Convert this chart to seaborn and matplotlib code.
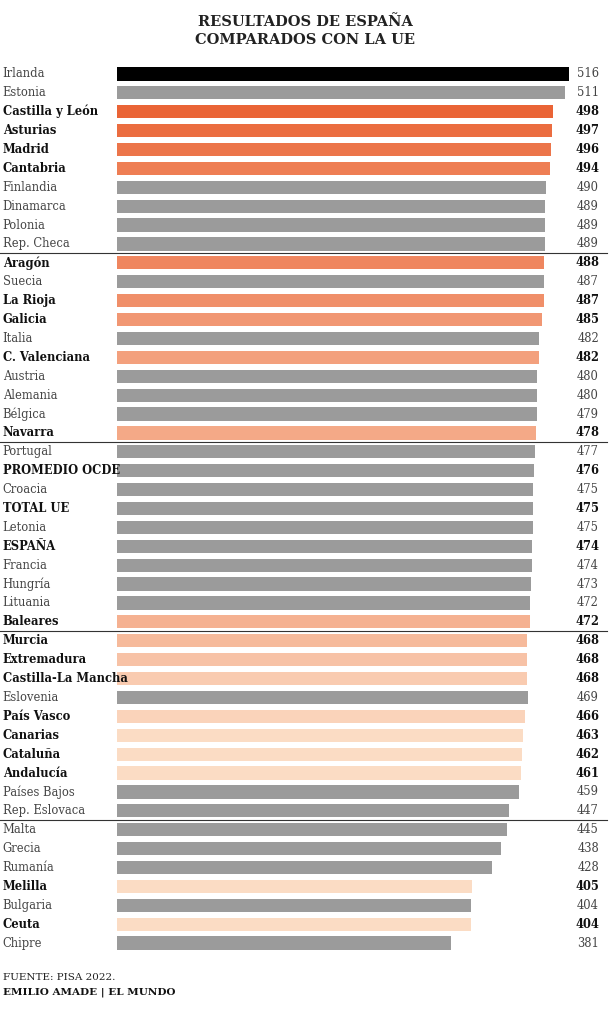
import matplotlib
matplotlib.use("Agg")
import matplotlib.pyplot as plt
import seaborn as sns
import pandas as pd
import numpy as np
from matplotlib.colors import to_rgb

labels = ["Irlanda","Estonia","Castilla y León","Asturias","Madrid","Cantabria","Finlandia","Dinamarca","Polonia","Rep. Checa",
          "Aragón","Suecia","La Rioja","Galicia","Italia","C. Valenciana","Austria","Alemania","Bélgica","Navarra",
          "Portugal","PROMEDIO OCDE","Croacia","TOTAL UE","Letonia","ESPAÑA","Francia","Hungría","Lituania","Baleares",
          "Murcia","Extremadura","Castilla-La Mancha","Eslovenia","País Vasco","Canarias","Cataluña","Andalucía","Países Bajos","Rep. Eslovaca",
          "Malta","Grecia","Rumanía","Melilla","Bulgaria","Ceuta","Chipre"]
values = [516,511,498,497,496,494,490,489,489,489,
          488,487,487,485,482,482,480,480,479,478,
          477,476,475,475,475,474,474,473,472,472,
          468,468,468,469,466,463,462,461,459,447,
          445,438,428,405,404,404,381]
regions = ["Castilla y León","Asturias","Madrid","Cantabria","Aragón","La Rioja","Galicia","C. Valenciana","Navarra",
           "Baleares","Murcia","Extremadura","Castilla-La Mancha","País Vasco","Canarias","Cataluña","Andalucía","Melilla","Ceuta"]
bold_other = ["PROMEDIO OCDE","TOTAL UE","ESPAÑA"]
separators_after = ["Rep. Checa","Navarra","Baleares","Rep. Eslovaca"]

dark = np.array(to_rgb("#ea6436")); light = np.array(to_rgb("#fbdcc4"))
colors = []
ri = 0
for lab in labels:
    if lab == "Irlanda":
        colors.append("#000000")
    elif lab in regions:
        t = min(1.0, ri / 14)
        colors.append(tuple(dark * (1 - t) + light * t)); ri += 1
    else:
        colors.append("#9b9b9b")

df = pd.DataFrame({"label": labels, "value": values})
fig = plt.figure(figsize=(6.1, 10.24), dpi=100)
W, H = 610, 1024
ax = fig.add_axes([117/W, 1-952.5/H, 452/W, (952.5-64.5)/H])
sns.barplot(data=df, x="value", y="label", hue="label", palette=colors, legend=False,
            width=0.7, ax=ax, saturation=1, orient="h")
ax.set_xlim(0, 516)
ax.set_ylim(len(labels)-0.5, -0.5)
ax.axis("off")
serif = "DejaVu Serif"
for i, (lab, v) in enumerate(zip(labels, values)):
    b = lab in regions or lab in bold_other
    ax.text(-117/452*516+3, i, lab, ha="left", va="center", fontsize=8.3, family=serif,
            fontweight="bold" if b else "normal", color="#111" if b else "#444")
    ax.text(599/452*516 - 117/452*516, i, str(v), ha="right", va="center", fontsize=8.3, family=serif,
            fontweight="bold" if b else "normal", color="#111" if b else "#444")
for s in separators_after:
    i = labels.index(s)
    ax.axhline(i + 0.5, xmin=-0.26, xmax=1.085, color="#333", lw=0.8, clip_on=False)

fig.text(0.5, 1-22/H, "RESULTADOS DE ESPAÑA", ha="center", va="center", fontsize=10.5, fontweight="bold", family=serif, color="#222")
fig.text(0.5, 1-40/H, "COMPARADOS CON LA UE", ha="center", va="center", fontsize=10.5, fontweight="bold", family=serif, color="#222")
fig.text(3/W, 1-978/H, "FUENTE: PISA 2022.", ha="left", va="center", fontsize=7.5, family=serif, color="#222")
fig.text(3/W, 1-992/H, "EMILIO AMADE | EL MUNDO", ha="left", va="center", fontsize=7.5, fontweight="bold", family=serif, color="#111")
fig.savefig("out.png", dpi=100, facecolor="white")
